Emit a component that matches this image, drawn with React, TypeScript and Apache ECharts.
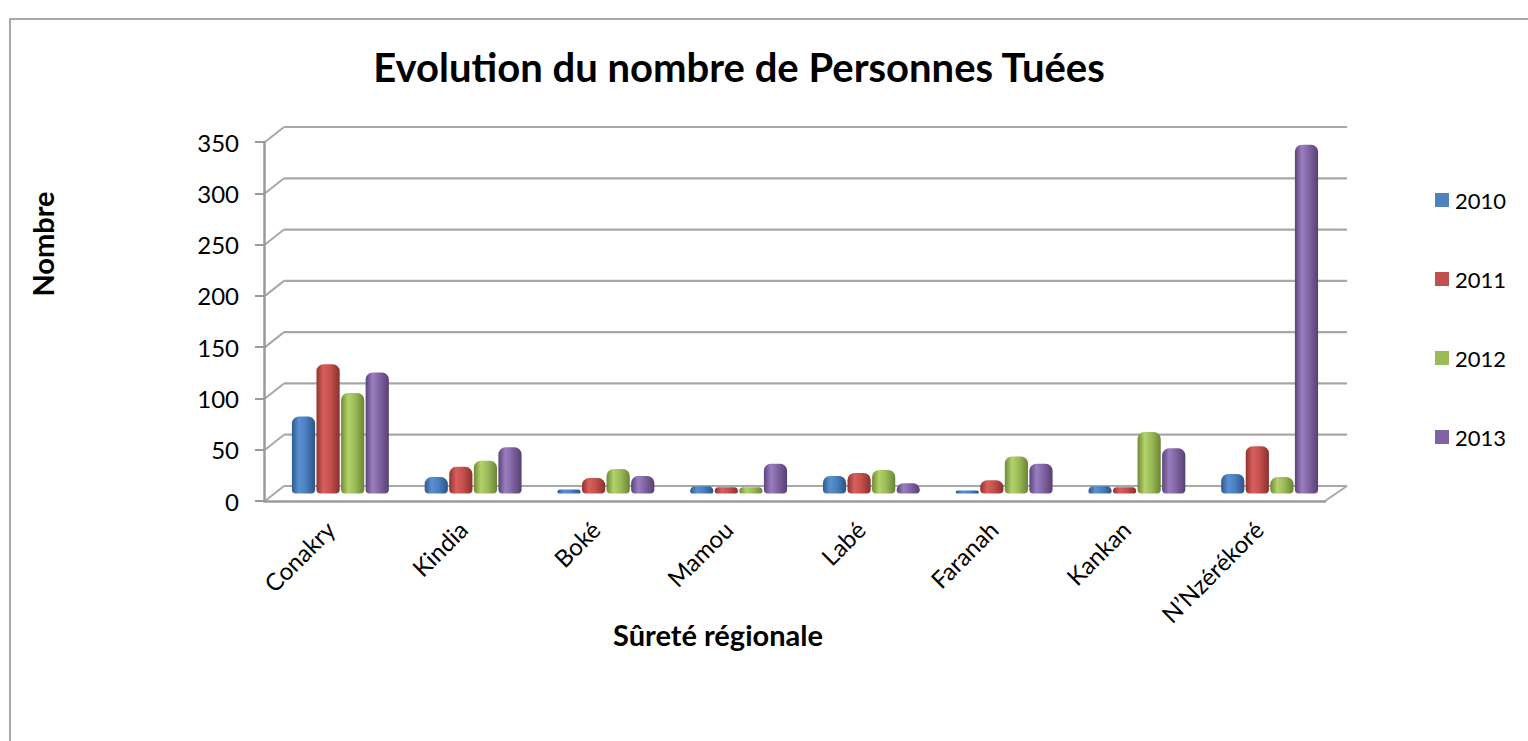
import React, { useEffect, useRef } from "react";
import * as echarts from "echarts";

const categories = ["Conakry", "Kindia", "Boké", "Mamou", "Labé", "Faranah", "Kankan", "N’Nzérékoré"];
const years = ["2010", "2011", "2012", "2013"];
const v2010 = [75, 16, 4, 7, 17, 3, 7, 19];
const v2011 = [126, 26, 15, 6, 20, 13, 6, 46];
const v2012 = [98, 32, 24, 6, 23, 36, 60, 16];
const v2013 = [118, 45, 17, 29, 10, 29, 44, 340];
const yTicks = [0, 50, 100, 150, 200, 250, 300, 350];

const colors = [
  ["#2f5b8f", "#5a8fd0", "#4a7fc0", "#2c5486"],
  ["#8f3330", "#d8605c", "#c4504c", "#8a302d"],
  ["#6e8a35", "#b2d26a", "#9bbb59", "#6a8533"],
  ["#5a4478", "#9a7ec0", "#8064a2", "#564172"],
];
const legendColors = ["#4F81BD", "#C0504D", "#9BBB59", "#8064A2"];

const FONT = "Lato, 'Open Sans', sans-serif";

export default function App() {
  const ref = useRef<HTMLDivElement>(null);
  useEffect(() => {
    if (!ref.current) return;
    const chart = echarts.init(ref.current, null, { renderer: "svg" });
    const DX = 20, DY = -15;
    const seriesData = [v2010, v2011, v2012, v2013];
    const barSeries = years.map((y, i) => ({
      name: y,
      type: "bar",
      xAxisIndex: 1,
      yAxisIndex: 1,
      barGap: "6%",
      barCategoryGap: "27%",
      data: seriesData[i],
      itemStyle: {
        borderRadius: [7, 7, 4, 4],
        color: {
          type: "linear", x: 0, y: 0, x2: 1, y2: 0,
          colorStops: [
            { offset: 0, color: colors[i][0] },
            { offset: 0.3, color: colors[i][1] },
            { offset: 0.6, color: colors[i][2] },
            { offset: 1, color: colors[i][3] },
          ],
        },
      },
    }));
    chart.setOption({
      animation: false,
      backgroundColor: "#fff",
      title: {
        text: "Evolution du nombre de Personnes Tuées",
        left: 734,
        textAlign: "center",
        top: 42,
        textStyle: { fontFamily: FONT, fontSize: 40, fontWeight: "bold", color: "#000" },
      },
      legend: {
        orient: "vertical",
        left: 1430,
        top: 184,
        itemWidth: 14,
        itemHeight: 14,
        itemGap: 57,
        icon: "rect",
        data: years.map((y, i) => ({ name: y, itemStyle: { color: legendColors[i] } })),
        textStyle: { fontFamily: FONT, fontSize: 22, color: "#000", padding: [0, 0, 0, 1] },
      },
      graphic: [
        {
          type: "rect",
          shape: { x: 10, y: 19, width: 1540, height: 800 },
          style: { fill: "none", stroke: "#8c8c8c", lineWidth: 1.5 },
          z: -10,
        },
        {
          type: "text",
          x: 42,
          y: 244,
          rotation: Math.PI / 2,
          style: {
            text: "Nombre",
            fontFamily: FONT,
            fontSize: 29,
            fontWeight: "bold",
            fill: "#000",
            align: "center",
            verticalAlign: "middle",
          },
        },
        {
          type: "text",
          x: 718,
          y: 634,
          style: {
            text: "Sûreté régionale",
            fontFamily: FONT,
            fontSize: 29,
            fontWeight: "bold",
            fill: "#000",
            align: "center",
            verticalAlign: "middle",
          },
        },
      ],
      grid: [
        { left: 264, right: 203, top: 142, bottom: 240 },
        { left: 274, right: 192, top: 134.5, bottom: 247.5 },
      ],
      xAxis: [
        {
          type: "category",
          gridIndex: 0,
          data: categories,
          axisLine: { lineStyle: { color: "#9a9a9a", width: 2.5 } },
          axisTick: { length: 9, lineStyle: { color: "#9a9a9a", width: 2 } },
          axisLabel: { rotate: 45, fontFamily: FONT, fontSize: 24, color: "#000", margin: 24 },
        },
        {
          type: "category",
          gridIndex: 1,
          data: categories,
          show: false,
        },
      ],
      yAxis: [
        {
          type: "value",
          gridIndex: 0,
          min: 0,
          max: 350,
          interval: 50,
          axisLine: { show: true, lineStyle: { color: "#9a9a9a", width: 2.5 } },
          axisTick: { show: true, length: 9, lineStyle: { color: "#9a9a9a", width: 2 } },
          axisLabel: { fontFamily: FONT, fontSize: 24, color: "#000", margin: 25 },
          splitLine: { show: false },
        },
        {
          type: "value",
          gridIndex: 1,
          min: 0,
          max: 350,
          interval: 50,
          show: false,
          splitLine: { show: false },
        },
      ],
      series: [
        {
          type: "custom",
          xAxisIndex: 0,
          yAxisIndex: 0,
          z: 0,
          silent: true,
          data: yTicks.map((t) => [0, t]),
          renderItem: (params: any, api: any) => {
            const cs = params.coordSys;
            const y = api.coord([0, api.value(1)])[1];
            const x0 = cs.x;
            const x1 = cs.x + cs.width;
            const children: any[] = [
              {
                type: "line",
                shape: { x1: x0 + 1, y1: y, x2: x0 + DX, y2: y + DY },
                style: { stroke: "#a8a8a8", lineWidth: 2 },
              },
              {
                type: "line",
                shape: { x1: x0 + DX, y1: y + DY, x2: x1 + DX + 2, y2: y + DY },
                style: { stroke: "#a8a8a8", lineWidth: 2.2 },
              },
            ];
            if (api.value(1) === 0) {
              children.push({
                type: "line",
                shape: { x1: x1, y1: y, x2: x1 + DX + 2, y2: y + DY },
                style: { stroke: "#a8a8a8", lineWidth: 2 },
              });
            }
            return { type: "group", children };
          },
        },
        ...barSeries,
      ],
    });
    return () => chart.dispose();
  }, []);
  return (
    <div
      ref={ref}
      style={{ position: "fixed", left: 0, top: 0, width: 1528, height: 741 }}
    />
  );
}
